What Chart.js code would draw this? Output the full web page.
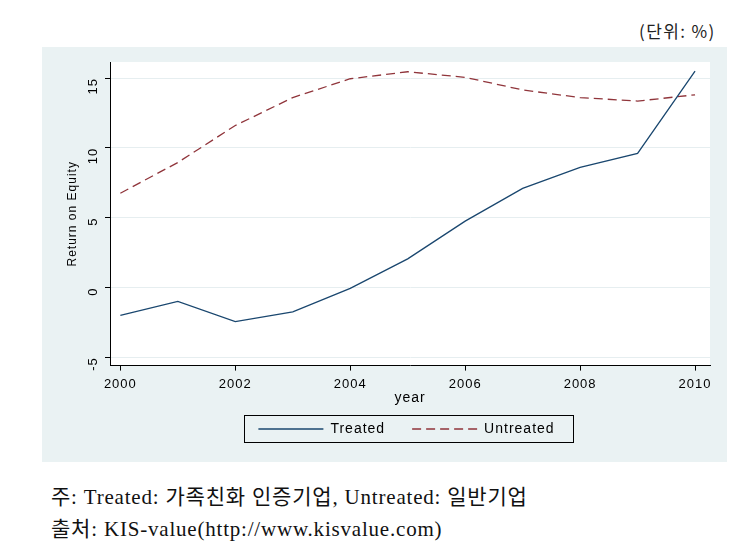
<!DOCTYPE html>
<html>
<head>
<meta charset="utf-8">
<script src="https://cdn.jsdelivr.net/npm/chart.js@4"></script>
<style>
  body { margin: 0; background: #fff; width: 738px; height: 553px; position: relative; overflow: hidden; }
  #unit { position: absolute; left: 639px; top: 18px; font: 17px "Noto Sans CJK KR", "Liberation Sans", sans-serif; letter-spacing: 1.4px; color: #222; }
  #panel { position: absolute; left: 42px; top: 47px; width: 685px; height: 415px; background: #eaf2f3; }
  .note { position: absolute; left: 51px; font: 21px "Liberation Serif", "Noto Sans CJK KR", serif; letter-spacing: 0.8px; color: #111; white-space: nowrap; }
</style>
</head>
<body>
<div id="unit">(단위: %)</div>
<div id="panel"><canvas id="roeChart" width="685" height="415"></canvas></div>
<div class="note" style="top:480px">주: Treated: 가족친화 인증기업, Untreated: 일반기업</div>
<div class="note" style="top:512px">출처: KIS-value(http://www.kisvalue.com)</div>
<script>
let years = [2000, 2001, 2002, 2003, 2004, 2005, 2006, 2007, 2008, 2009, 2010];
let treated = [-2.0, -1.0, -2.45, -1.75, -0.07, 2.05, 4.75, 7.1, 8.6, 9.6, 15.5];
let untreated = [6.75, 8.95, 11.6, 13.6, 14.95, 15.45, 15.05, 14.15, 13.6, 13.35, 13.8];
let xTicks = [2000, 2002, 2004, 2006, 2008, 2010];
let yTicks = [-5, 0, 5, 10, 15];
const legendShift = 19;

function toPoints(vals) {
  let pts = [];
  for (let i = 0; i < years.length; i++) {
    pts.push({ x: years[i], y: vals[i] });
  }
  return pts;
}

// white plot region + spaced text like the Stata export
const plotBg = {
  id: 'plotBg',
  beforeLayout(chart) { chart.ctx.letterSpacing = '1px'; },
  beforeDraw(chart) {
    const a = chart.chartArea;
    const ctx = chart.ctx;
    ctx.letterSpacing = '1px';
    ctx.save();
    ctx.fillStyle = '#ffffff';
    ctx.fillRect(a.left, a.top, a.right - a.left, a.bottom - a.top);
    ctx.restore();
  }
};

// legend sits under the plot area centre, with a frame round it
const legendFrame = {
  id: 'legendFrame',
  afterUpdate(chart) {
    chart.legend.left += legendShift;
    chart.legend.right += legendShift;
  },
  afterDraw(chart) {
    const lg = chart.legend;
    const boxes = lg.legendHitBoxes;
    if (!boxes || !boxes.length) return;
    const pad = lg.options.labels.padding;
    const rowW = lg.lineWidths[0];
    const x1 = (lg.left + pad + lg.right - rowW) / 2;
    let w = 0, h = 0;
    boxes.forEach(b => { w += b.width; h = Math.max(h, b.height); });
    w += pad * (boxes.length - 1);
    const y1 = lg.top + pad;
    const ctx = chart.ctx;
    ctx.save();
    ctx.strokeStyle = '#000';
    ctx.lineWidth = 1;
    ctx.strokeRect(Math.round(x1 - 14) + 0.5, Math.round(y1 - 7) + 0.5, Math.round(w + 33), Math.round(h + 13));
    ctx.restore();
  }
};

const ctx = document.getElementById('roeChart').getContext('2d');
new Chart(ctx, {
  type: 'line',
  data: {
    datasets: [
      {
        label: 'Treated',
        data: toPoints(treated),
        borderColor: '#1a476f',
        borderWidth: 1.3,
        pointRadius: 0,
        tension: 0
      },
      {
        label: 'Untreated',
        data: toPoints(untreated),
        borderColor: '#90353b',
        borderWidth: 1.3,
        borderDash: [9, 5],
        pointRadius: 0,
        tension: 0
      }
    ]
  },
  options: {
    responsive: false,
    devicePixelRatio: 1,
    animation: false,
    layout: { padding: { left: 23, right: 17, top: 15, bottom: 16 } },
    scales: {
      x: {
        type: 'linear',
        min: 1999.82,
        max: 2010.26,
        afterBuildTicks: (scale) => { scale.ticks = xTicks.map(v => ({ value: v })); },
        ticks: { color: '#000', font: { family: 'Liberation Sans', size: 13 }, padding: 6, maxRotation: 0, callback: v => String(v) },
        grid: { drawOnChartArea: false, tickColor: '#000', tickLength: 5 },
        border: { color: '#000', width: 1 },
        title: { display: true, text: 'year', color: '#000', font: { family: 'Liberation Sans', size: 14 }, padding: { top: -8, bottom: -12 } }
      },
      y: {
        min: -5.6,
        max: 16.15,
        afterBuildTicks: (scale) => { scale.ticks = yTicks.map(v => ({ value: v })); },
        // labels sit well inside the range, so no extra room above/below
        afterFit: (scale) => { scale.paddingTop = 0; scale.paddingBottom = 0; },
        ticks: { color: '#000', font: { family: 'Liberation Sans', size: 13 }, padding: 12, minRotation: 90, maxRotation: 90 },
        grid: { color: '#e6eef0', tickColor: '#000', tickLength: 5 },
        border: { color: '#000', width: 1 },
        title: { display: true, text: 'Return on Equity', color: '#000', font: { family: 'Liberation Sans', size: 12 }, padding: { top: 0, bottom: -14 } }
      }
    },
    plugins: {
      legend: {
        position: 'bottom',
        labels: {
          usePointStyle: true,
          pointStyle: 'line',
          pointStyleWidth: 65,
          color: '#000',
          font: { family: 'Liberation Sans', size: 14 },
          padding: 27,
          generateLabels: (chart) => {
            const items = Chart.defaults.plugins.legend.labels.generateLabels(chart);
            items.forEach((it, i) => {
              it.lineDash = chart.data.datasets[i].borderDash || [];
              it.lineWidth = 1.3;
            });
            return items;
          }
        }
      },
      tooltip: { enabled: false }
    }
  },
  plugins: [plotBg, legendFrame]
});
</script>
</body>
</html>
